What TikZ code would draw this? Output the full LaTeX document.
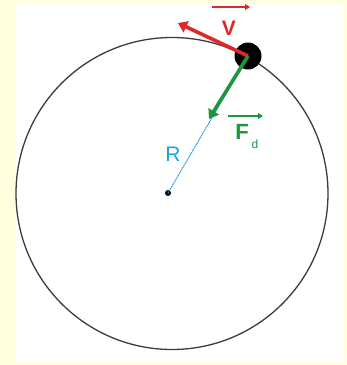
\documentclass[tikz,border=0pt]{standalone}
\usepackage{fontspec}
\setmainfont{Liberation Sans}
\usetikzlibrary{arrows.meta}
\definecolor{bgyellow}{RGB}{255,255,221}
\definecolor{vred}{RGB}{222,40,40}
\definecolor{fgreen}{RGB}{30,150,60}
\definecolor{rblue}{RGB}{30,160,225}
\definecolor{rim}{RGB}{60,60,60}
\tikzset{
  vecarrow/.style={line width=3.6pt,-{Triangle[length=9pt,width=12pt]}},
  overarrow/.style={line width=1.4pt,-{Triangle[length=5pt,width=6pt]}},
  lbl/.style={inner sep=0pt,font=\fontsize{21}{21}\selectfont},
}
\begin{document}
\begin{tikzpicture}[x=1pt,y=-1pt]
\useasboundingbox (0,0) rectangle (347,365);
\fill[bgyellow] (0,0) rectangle (347,365);
\fill[white] (16,3) rectangle (344,362);
% orbit
\draw[rim,line width=1.3pt] (172,193.5) circle[radius=156];
% center
\node[circle,fill=black,inner sep=0pt,minimum size=6pt] (ctr) at (168,193) {};
% ball
\node[circle,fill=black,inner sep=0pt,minimum size=27pt] (ball) at (248,56) {};
\coordinate (vtip) at (178,23);
\coordinate (ftip) at (209,119);
% radius
\draw[rblue,line width=1pt,dash pattern=on 1.5pt off 0.7pt] (ctr.center) -- (ball.center);
\node[lbl,text=rblue] (rlab) at (173,154) {R};
% velocity
\draw[vred,vecarrow] (ball.center) -- (vtip);
\node[lbl,text=vred,font=\fontsize{21}{21}\selectfont\bfseries] (vlab) at (229,28) {V};
\coordinate (va1) at (212,7);
\coordinate (va2) at (250,7);
\draw[vred,overarrow] (va1) -- (va2);
% force
\draw[fgreen,vecarrow] (ball.center) -- (ftip);
\node[lbl,text=fgreen,font=\fontsize{22}{22}\selectfont\bfseries] (flab) at (242,132) {F};
\node[inner sep=0pt,text=fgreen,font=\fontsize{12}{12}\selectfont] (fsub) at (255,144) {d};
\coordinate (fa1) at (228,116);
\coordinate (fa2) at (263,116);
\draw[fgreen,overarrow] (fa1) -- (fa2);
\end{tikzpicture}
\end{document}
